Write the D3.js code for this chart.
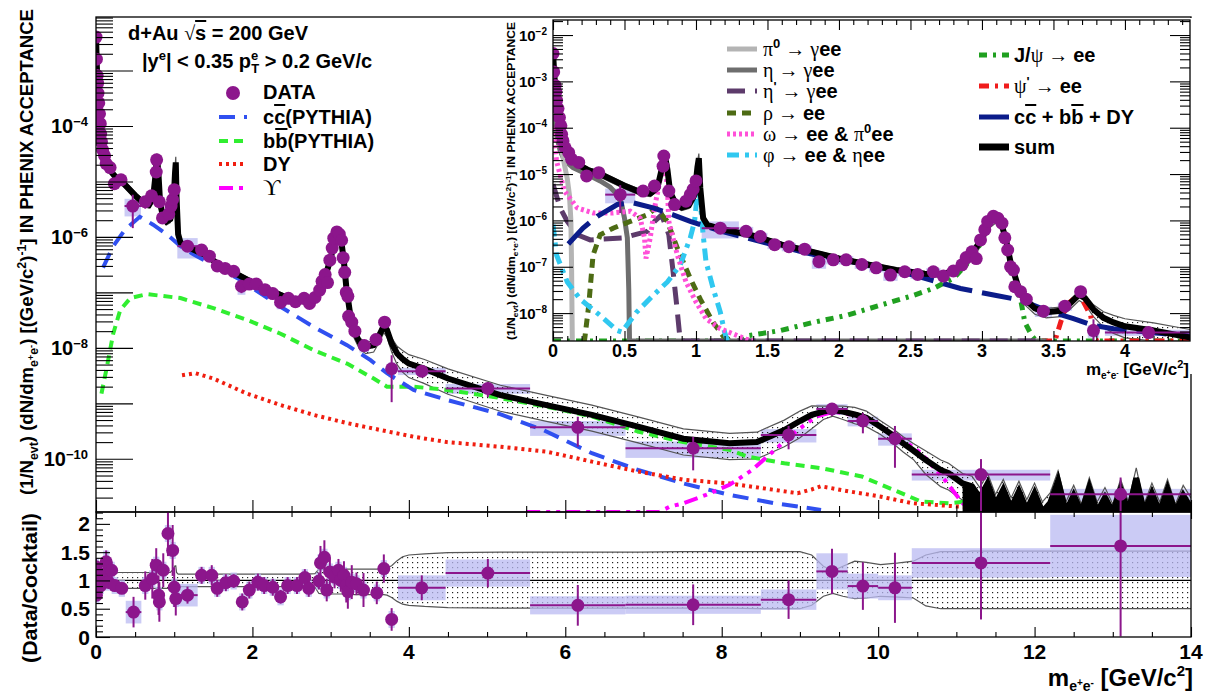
<!DOCTYPE html>
<html>
<head>
<meta charset="utf-8">
<title>Dielectron mass spectrum, d+Au 200 GeV</title>
<script src="https://cdn.jsdelivr.net/npm/d3@7"></script>
<style>
  body { margin: 0; background: #fff; }
  svg text { font-family: "Liberation Sans", Arial, Helvetica, sans-serif; font-weight: bold; fill: #000; }
</style>
</head>
<body>
<svg id="chart" width="1216" height="696"></svg>
<script>
/**
* DIELECTRON SPECTRUM
* ===================
*
* d+Au data compared with the hadronic cocktail: full mass range,
* a low-mass inset and the Data/Cocktail ratio underneath.
*/

// measured pairs (mass in GeV/c2, yield, relative stat error, relative syst, half bin width)
var dataMass = [
	0.000, 0.005, 0.015, 0.020, 0.025,
	0.035, 0.045, 0.055, 0.060, 0.070,
	0.085, 0.110, 0.130, 0.180, 0.235,
	0.320, 0.470, 0.630, 0.710, 0.770,
	0.775, 0.810, 0.850, 0.930, 0.960,
	0.980, 1.000, 1.170, 1.350, 1.450,
	1.550, 1.650, 1.760, 1.860, 1.960,
	2.050, 2.160, 2.260, 2.360, 2.460,
	2.550, 2.660, 2.730, 2.800, 2.860,
	2.890, 2.930, 2.960, 2.990, 3.020,
	3.040, 3.080, 3.110, 3.140, 3.160,
	3.180, 3.200, 3.220, 3.230, 3.270,
	3.310, 3.430, 3.580, 3.690, 3.780,
	4.165, 5.010, 6.160, 7.635, 8.855,
	9.410, 9.805, 10.215, 11.315, 13.100];
var dataYield = [
	4.0e-3, 1.6e-3, 8.1e-4, 5.9e-4, 3.9e-4,
	2.6e-4, 1.66e-4, 1.1e-4, 7.2e-5, 5.2e-5,
	3.7e-5, 2.9e-5, 2.1e-5, 1.78e-5, 9.1e-6,
	1.07e-5, 3.6e-6, 4.3e-6, 5.5e-6, 1.48e-5,
	2.45e-5, 4.3e-6, 2.2e-6, 2.6e-6, 3.6e-6,
	4.7e-6, 7.1e-6, 6.8e-7, 5.8e-7, 4.5e-7,
	3.0e-7, 2.7e-7, 2.4e-7, 1.29e-7, 1.41e-7,
	1.41e-7, 1.12e-7, 9.5e-8, 6.6e-8, 7.8e-8,
	6.8e-8, 7.8e-8, 6.3e-8, 8.1e-8, 1.1e-7,
	1.58e-7, 2.1e-7, 1.5e-7, 3.8e-7, 6.3e-7,
	9.5e-7, 1.23e-6, 1.12e-6, 8.7e-7, 4.2e-7,
	2.3e-7, 1.0e-7, 8.5e-8, 3.7e-8, 2.9e-8,
	2.0e-8, 1.1e-8, 1.41e-8, 2.9e-8, 4.2e-9,
	3.8e-9, 1.86e-9, 3.7e-10, 1.55e-10, 2.7e-10,
	7.9e-10, 4.8e-10, 2.3e-10, 5.2e-11, 2.3e-11];
var dataStat = [
	0.05, 0.05, 0.05, 0.05, 0.05,
	0.05, 0.05, 0.05, 0.05, 0.05,
	0.05, 0.05, 0.05, 0.05, 0.12,
	0.06, 0.60, 0.25, 0.10, 0.08,
	0.08, 0.12, 0.20, 0.12, 0.12,
	0.12, 0.12, 0.15, 0.10, 0.10,
	0.10, 0.10, 0.10, 0.25, 0.10,
	0.10, 0.10, 0.10, 0.18, 0.12,
	0.12, 0.12, 0.12, 0.12, 0.12,
	0.12, 0.12, 0.12, 0.10, 0.10,
	0.10, 0.10, 0.10, 0.10, 0.10,
	0.10, 0.10, 0.10, 0.15, 0.15,
	0.15, 0.20, 0.15, 0.15, 0.75,
	0.15, 0.30, 0.55, 0.60, 0.45,
	0.25, 0.40, 0.70, 0.90, 1.00];
var dataSys = [
	0.12, 0.12, 0.12, 0.12, 0.12,
	0.12, 0.12, 0.12, 0.12, 0.12,
	0.12, 0.12, 0.12, 0.12, 0.20,
	0.15, 0.35, 0.20, 0.15, 0.12,
	0.12, 0.15, 0.20, 0.20, 0.15,
	0.15, 0.15, 0.40, 0.25, 0.20,
	0.20, 0.20, 0.20, 0.30, 0.20,
	0.20, 0.20, 0.20, 0.25, 0.20,
	0.20, 0.20, 0.20, 0.20, 0.20,
	0.20, 0.20, 0.20, 0.15, 0.15,
	0.15, 0.15, 0.15, 0.15, 0.15,
	0.15, 0.15, 0.15, 0.20, 0.20,
	0.20, 0.25, 0.20, 0.20, 0.30,
	0.15, 0.20, 0.30, 0.33, 0.27,
	0.22, 0.20, 0.25, 0.22, 0.25];
var dataBinHalf = [
	0.005, 0.005, 0.005, 0.005, 0.005,
	0.005, 0.005, 0.005, 0.005, 0.005,
	0.005, 0.010, 0.010, 0.020, 0.020,
	0.030, 0.105, 0.030, 0.020, 0.010,
	0.010, 0.020, 0.020, 0.020, 0.010,
	0.010, 0.010, 0.130, 0.050, 0.050,
	0.050, 0.050, 0.050, 0.050, 0.050,
	0.050, 0.050, 0.050, 0.050, 0.050,
	0.050, 0.050, 0.030, 0.030, 0.020,
	0.020, 0.020, 0.020, 0.020, 0.020,
	0.020, 0.020, 0.020, 0.020, 0.020,
	0.020, 0.020, 0.020, 0.020, 0.020,
	0.030, 0.060, 0.050, 0.030, 0.040,
	0.305, 0.540, 0.610, 0.865, 0.355,
	0.200, 0.195, 0.215, 0.885, 0.900];

// Data/Cocktail ratio
var ratioMass = [
	0.000, 0.005, 0.010, 0.040, 0.060,
	0.100, 0.130, 0.160, 0.200, 0.240,
	0.330, 0.480, 0.630, 0.720, 0.770,
	0.800, 0.810, 0.860, 0.920, 0.980,
	1.000, 1.020, 1.170, 1.350, 1.480,
	1.550, 1.660, 1.760, 1.870, 1.960,
	2.070, 2.150, 2.260, 2.360, 2.450,
	2.570, 2.670, 2.720, 2.850, 2.870,
	2.920, 2.950, 2.990, 3.050, 3.100,
	3.130, 3.170, 3.200, 3.220, 3.270,
	3.330, 3.420, 3.590, 3.680, 3.780,
	4.165, 5.010, 6.160, 7.635, 8.855,
	9.410, 9.805, 10.215, 11.315, 13.100];
var ratioVal = [
	1.24, 0.74, 1.00, 1.09, 0.91,
	1.12, 1.33, 0.97, 1.18, 0.91,
	0.86, 0.44, 0.91, 1.03, 1.27,
	0.74, 0.62, 1.18, 1.83, 1.53,
	0.88, 0.68, 0.74, 1.09, 1.09,
	0.86, 0.96, 0.99, 0.62, 0.83,
	0.97, 0.91, 0.88, 0.71, 0.91,
	0.91, 1.05, 0.86, 0.99, 1.31,
	1.41, 0.83, 1.15, 1.06, 1.18,
	1.00, 1.09, 0.91, 0.80, 0.97,
	0.94, 0.83, 0.78, 1.21, 0.31,
	0.87, 1.13, 0.56, 0.57, 0.66,
	1.16, 0.90, 0.87, 1.31, 1.61];
var ratioStat = [
	0.15, 0.10, 0.10, 0.12, 0.10,
	0.15, 0.20, 0.12, 0.15, 0.10,
	0.10, 0.27, 0.25, 0.35, 0.30,
	0.35, 0.35, 0.30, 0.40, 0.45,
	0.35, 0.30, 0.15, 0.15, 0.18,
	0.15, 0.15, 0.12, 0.15, 0.15,
	0.15, 0.15, 0.15, 0.12, 0.15,
	0.15, 0.15, 0.15, 0.15, 0.30,
	0.30, 0.20, 0.25, 0.20, 0.20,
	0.20, 0.25, 0.30, 0.30, 0.30,
	0.20, 0.30, 0.20, 0.25, 0.20,
	0.22, 0.25, 0.36, 0.36, 0.34,
	0.40, 0.42, 0.62, 1.00, 1.60];
var ratioSys = [
	0.15, 0.15, 0.15, 0.15, 0.15,
	0.20, 0.20, 0.15, 0.15, 0.15,
	0.15, 0.20, 0.15, 0.15, 0.15,
	0.15, 0.15, 0.15, 0.15, 0.15,
	0.15, 0.15, 0.20, 0.15, 0.15,
	0.15, 0.15, 0.15, 0.15, 0.15,
	0.15, 0.15, 0.15, 0.15, 0.15,
	0.15, 0.15, 0.15, 0.15, 0.15,
	0.15, 0.15, 0.15, 0.15, 0.15,
	0.15, 0.15, 0.15, 0.15, 0.15,
	0.15, 0.15, 0.15, 0.15, 0.15,
	0.22, 0.24, 0.16, 0.16, 0.18,
	0.32, 0.22, 0.22, 0.26, 0.55];
var ratioBinHalf = [
	0.04, 0.04, 0.04, 0.04, 0.04,
	0.04, 0.04, 0.04, 0.04, 0.04,
	0.04, 0.10, 0.04, 0.04, 0.04,
	0.04, 0.04, 0.04, 0.04, 0.04,
	0.04, 0.04, 0.13, 0.04, 0.04,
	0.04, 0.04, 0.04, 0.04, 0.04,
	0.04, 0.04, 0.04, 0.04, 0.04,
	0.04, 0.04, 0.04, 0.04, 0.04,
	0.04, 0.04, 0.04, 0.04, 0.04,
	0.04, 0.04, 0.04, 0.04, 0.04,
	0.04, 0.04, 0.04, 0.04, 0.04,
	0.305, 0.540, 0.610, 0.865, 0.355,
	0.200, 0.195, 0.215, 0.885, 0.900];

// cocktail sum with its systematic band (upper / lower relative limits)
var sumMass = [
	0.00, 0.01, 0.02, 0.04, 0.06,
	0.08, 0.10, 0.13, 0.18, 0.25,
	0.33, 0.40, 0.50, 0.60, 0.68,
	0.73, 0.76, 0.78, 0.80, 0.82,
	0.86, 0.90, 0.95, 0.99, 1.01,
	1.02, 1.03, 1.05, 1.08, 1.20,
	1.40, 1.60, 1.80, 2.00, 2.20,
	2.40, 2.60, 2.70, 2.80, 2.85,
	2.90, 3.00, 3.05, 3.10, 3.13,
	3.17, 3.20, 3.25, 3.30, 3.37,
	3.45, 3.55, 3.62, 3.68, 3.72,
	3.78, 3.85, 3.92, 4.00, 4.20,
	4.50, 5.17, 5.76, 6.34, 6.93,
	7.51, 8.10, 8.45, 8.80, 9.00,
	9.15, 9.30, 9.42, 9.55, 9.70,
	9.85, 10.03, 10.20, 10.32, 10.45,
	10.61, 10.80, 10.90, 11.08, 11.20,
	11.30, 11.40, 11.50, 11.60, 11.70,
	11.80, 11.90, 12.00, 12.10, 12.20,
	12.30, 12.40, 12.50, 12.60, 12.70,
	12.80, 12.90, 13.00, 13.10, 13.20,
	13.30, 13.40, 13.50, 13.60, 13.70,
	13.80, 13.90, 14.00];
var sumYield = [
	4.2e-3, 1.26e-3, 5.6e-4, 2.4e-4, 9.5e-5,
	4.5e-5, 2.8e-5, 2.0e-5, 1.58e-5, 1.2e-5,
	1.0e-5, 7.9e-6, 5.6e-6, 4.2e-6, 3.8e-6,
	5.0e-6, 1.26e-5, 2.8e-5, 1.26e-5, 4.0e-6,
	2.24e-6, 1.9e-6, 2.1e-6, 3.55e-6, 1.4e-5,
	2.2e-5, 5.0e-6, 1.12e-6, 7.9e-7, 6.3e-7,
	4.7e-7, 3.0e-7, 2.14e-7, 1.51e-7, 1.12e-7,
	8.5e-8, 7.1e-8, 6.8e-8, 7.9e-8, 1.0e-7,
	1.41e-7, 4.0e-7, 8.9e-7, 1.18e-6, 1.0e-6,
	3.55e-7, 1.26e-7, 4.0e-8, 2.0e-8, 1.26e-8,
	1.05e-8, 1.12e-8, 1.66e-8, 2.5e-8, 2.1e-8,
	1.2e-8, 7.9e-9, 6.3e-9, 5.2e-9, 4.2e-9,
	2.8e-9, 1.41e-9, 9.3e-10, 6.2e-10, 3.8e-10,
	2.3e-10, 1.9e-10, 2.0e-10, 3.3e-10, 4.8e-10,
	6.2e-10, 7.1e-10, 7.6e-10, 7.1e-10, 6.3e-10,
	5.5e-10, 3.8e-10, 2.6e-10, 1.9e-10, 1.41e-10,
	9.5e-11, 6.3e-11, 5.5e-11, 3.6e-11, 3.2e-11,
	2.0e-11, 3.6e-11, 1.5e-11, 2.8e-11, 1.3e-11,
	2.6e-11, 1.2e-11, 2.4e-11, 1.1e-11, 1.6e-11,
	4.0e-11, 1.1e-11, 2.2e-11, 1.0e-11, 3.0e-11,
	1.1e-11, 2.0e-11, 1.0e-11, 2.8e-11, 1.1e-11,
	4.5e-11, 1.0e-11, 2.4e-11, 1.1e-11, 2.8e-11,
	1.0e-11, 2.2e-11, 1.3e-11];
var sumRelHi = [
	1.10, 1.11, 1.12, 1.13, 1.13,
	1.13, 1.13, 1.13, 1.13, 1.14,
	1.14, 1.14, 1.14, 1.14, 1.14,
	1.14, 1.14, 1.14, 1.14, 1.14,
	1.14, 1.14, 1.14, 1.20, 1.26,
	1.26, 1.14, 1.11, 1.11, 1.11,
	1.11, 1.11, 1.11, 1.11, 1.11,
	1.11, 1.11, 1.11, 1.12, 1.20,
	1.20, 1.20, 1.20, 1.20, 1.20,
	1.20, 1.20, 1.20, 1.20, 1.20,
	1.20, 1.20, 1.20, 1.21, 1.22,
	1.26, 1.35, 1.42, 1.45, 1.47,
	1.49, 1.50, 1.50, 1.50, 1.50,
	1.51, 1.51, 1.51, 1.51, 1.51,
	1.45, 1.25, 1.17, 1.25, 1.34,
	1.32, 1.28, 1.30, 1.32, 1.34,
	1.45, 1.51, 1.51, 1.51, 1.52,
	1.52, 1.52, 1.52, 1.52, 1.52,
	1.52, 1.52, 1.52, 1.52, 1.52,
	1.52, 1.52, 1.52, 1.52, 1.52,
	1.52, 1.52, 1.52, 1.52, 1.52,
	1.52, 1.52, 1.52, 1.52, 1.52,
	1.52, 1.52, 1.52];
var sumRelLo = [
	0.90, 0.89, 0.88, 0.87, 0.87,
	0.87, 0.87, 0.87, 0.87, 0.86,
	0.86, 0.86, 0.86, 0.86, 0.86,
	0.86, 0.86, 0.86, 0.86, 0.86,
	0.86, 0.86, 0.86, 0.84, 0.82,
	0.84, 0.88, 0.89, 0.89, 0.89,
	0.89, 0.89, 0.89, 0.89, 0.89,
	0.89, 0.89, 0.89, 0.88, 0.77,
	0.76, 0.76, 0.76, 0.76, 0.76,
	0.76, 0.76, 0.76, 0.75, 0.75,
	0.75, 0.75, 0.75, 0.75, 0.74,
	0.70, 0.63, 0.58, 0.56, 0.54,
	0.52, 0.51, 0.51, 0.51, 0.51,
	0.51, 0.51, 0.50, 0.50, 0.50,
	0.56, 0.72, 0.77, 0.72, 0.68,
	0.69, 0.72, 0.71, 0.70, 0.69,
	0.55, 0.50, 0.50, 0.50, 0.50,
	0.50, 0.50, 0.50, 0.50, 0.50,
	0.50, 0.50, 0.50, 0.50, 0.50,
	0.50, 0.50, 0.50, 0.50, 0.50,
	0.50, 0.50, 0.50, 0.50, 0.50,
	0.50, 0.50, 0.50, 0.50, 0.50,
	0.50, 0.50, 0.50];

// heavy flavour, Drell-Yan and Upsilon (full range panel)
var ccMass = [0.09, 0.22, 0.37, 0.56, 0.73, 0.91, 1.08, 1.25, 1.84, 2.36, 2.78, 3.21, 3.51, 3.72, 4.06, 4.49, 5.15, 5.72, 6.34, 6.93, 7.51, 8.10, 8.68, 9.27];
var ccYield = [2.8e-7, 6.8e-7, 1.35e-6, 2.3e-6, 1.66e-6, 1.1e-6, 6.8e-7, 4.8e-7, 1.7e-7, 5.5e-8, 2.4e-8, 1.12e-8, 6.0e-9, 3.5e-9, 1.74e-9, 1.15e-9, 6.5e-10, 3.3e-10, 1.26e-10, 6.3e-11, 3.6e-11, 2.24e-11, 1.58e-11, 1.2e-11];
var bbMass = [0.07, 0.14, 0.22, 0.31, 0.44, 0.65, 1.08, 1.50, 1.93, 2.36, 2.78, 3.21, 3.55, 3.72, 4.06, 4.49, 5.15, 5.76, 6.34, 6.93, 7.51, 8.10, 8.33, 8.80, 9.27, 9.79, 10.20, 10.55, 10.90, 11.31, 11.60, 11.90];
var bbYield = [1.5e-9, 4.6e-9, 1.8e-8, 4.8e-8, 7.9e-8, 9.3e-8, 7.9e-8, 5.2e-8, 3.2e-8, 1.8e-8, 9.1e-9, 5.2e-9, 2.8e-9, 2.0e-9, 2.0e-9, 1.74e-9, 1.26e-9, 8.7e-10, 5.8e-10, 3.1e-10, 2.0e-10, 1.45e-10, 1.1e-10, 8.3e-11, 6.8e-11, 4.8e-11, 2.75e-11, 1.7e-11, 1.58e-11, 1.8e-11, 1.48e-11, 1.12e-11];
var dyMass = [1.10, 1.27, 1.50, 1.93, 2.36, 2.78, 3.21, 3.64, 4.06, 4.49, 5.15, 5.76, 6.34, 6.93, 7.51, 8.10, 8.68, 8.97, 9.15, 9.27, 9.62, 10.02, 10.44, 11.02, 11.60, 12.50];
var dyYield = [3.2e-9, 3.5e-9, 2.8e-9, 1.5e-9, 9.3e-10, 6.2e-10, 4.4e-10, 3.3e-10, 2.5e-10, 2.0e-10, 1.66e-10, 1.35e-10, 8.9e-11, 5.9e-11, 4.2e-11, 3.6e-11, 2.75e-11, 2.4e-11, 2.8e-11, 3.2e-11, 2.6e-11, 2.1e-11, 1.58e-11, 1.38e-11, 1.29e-11, 1.17e-11];
var upsMass = [5.50, 7.20, 7.34, 7.51, 7.80, 8.10, 8.39, 8.68, 8.97, 9.21, 9.44, 9.67, 9.96, 10.26, 10.55, 10.85, 11.08, 11.20];
var upsYield = [1e-12, 1e-12, 1.38e-11, 1.58e-11, 2.24e-11, 3.4e-11, 6.3e-11, 1.45e-10, 3.3e-10, 5.8e-10, 7.1e-10, 6.2e-10, 4.4e-10, 2.5e-10, 1.26e-10, 4.2e-11, 1.58e-11, 1e-12];

// cocktail sources (inset)
var pi0Mass = [0, 0.01, 0.02, 0.03, 0.04, 0.06, 0.08, 0.10, 0.115, 0.125, 0.13, 0.133, 0.135];
var pi0Yield = [3.55e-3, 1.0e-3, 4.0e-4, 1.78e-4, 8.9e-5, 3.55e-5, 1.58e-5, 7.9e-6, 3.55e-6, 1.0e-6, 1.0e-7, 1.0e-8, 1e-10];
var etaMass = [0, 0.02, 0.05, 0.08, 0.14, 0.22, 0.33, 0.40, 0.45, 0.48, 0.50, 0.52, 0.53, 0.535, 3.45];
var etaYield = [2.0e-4, 7.9e-5, 3.2e-5, 2.0e-5, 1.38e-5, 1.05e-5, 7.1e-6, 5.2e-6, 3.6e-6, 2.24e-6, 1.12e-6, 4.2e-7, 3.2e-8, 1e-10, 1e-10];
var etapMass = [0, 0.05, 0.10, 0.17, 0.26, 0.49, 0.66, 0.71, 0.76, 0.81, 0.84, 0.865, 0.89, 0.90, 3.45];
var etapYield = [6.0e-6, 1.86e-6, 9.5e-7, 4.9e-7, 3.8e-7, 4.2e-7, 5.8e-7, 9.5e-7, 1.32e-6, 4.9e-7, 7.8e-8, 1.48e-8, 2.3e-9, 1e-10, 1e-10];
var rhoMass = [0.21, 0.22, 0.25, 0.28, 0.33, 0.42, 0.54, 0.66, 0.72, 0.80, 0.87, 0.96, 1.03, 1.12, 1.19, 1.25];
var rhoYield = [1e-10, 2.3e-9, 1.48e-8, 1.78e-7, 4.9e-7, 6.8e-7, 9.5e-7, 1.32e-6, 1.86e-6, 9.5e-7, 2.5e-7, 5.6e-8, 2.0e-8, 6.3e-9, 3.2e-9, 1e-10];
var omegaMass = [0, 0.025, 0.08, 0.17, 0.28, 0.42, 0.54, 0.61, 0.64, 0.65, 0.68, 0.71, 0.75, 0.782, 0.80, 0.81, 0.87, 0.93, 1.00, 1.07, 1.17, 1.26, 1.35, 1.40];
var omegaYield = [1.02e-4, 1.9e-5, 4.3e-6, 1.86e-6, 1.45e-6, 1.45e-6, 1.58e-6, 1.12e-6, 4.2e-7, 1.51e-7, 4.2e-7, 1.86e-6, 7.9e-6, 2.0e-5, 5.0e-6, 9.5e-7, 1.78e-7, 4.7e-8, 1.74e-8, 7.6e-9, 4.6e-9, 3.55e-9, 2.75e-9, 1e-10];
var phiMass = [0, 0.025, 0.10, 0.19, 0.33, 0.45, 0.48, 0.585, 0.70, 0.80, 0.89, 0.96, 0.99, 1.01, 1.02, 1.03, 1.05, 1.07, 1.12, 1.17, 1.20, 1.22];
var phiYield = [8.1e-7, 1.78e-7, 4.7e-8, 2.0e-8, 8.9e-9, 4.2e-9, 3.9e-9, 1.05e-8, 2.4e-8, 4.7e-8, 1.1e-7, 4.2e-7, 9.5e-7, 4.0e-6, 5.0e-6, 2.5e-6, 4.9e-7, 1.29e-7, 3.4e-8, 1.05e-8, 3.9e-9, 1e-10];
var jpsiMass = [0, 1.30, 1.35, 1.59, 1.82, 2.05, 2.29, 2.52, 2.66, 2.80, 2.89, 2.98, 3.04, 3.10, 3.14, 3.18, 3.22, 3.27, 3.30, 3.35, 3.38, 4.455];
var jpsiYield = [1e-10, 1e-10, 3.2e-9, 4.2e-9, 6.3e-9, 8.9e-9, 1.48e-8, 2.4e-8, 3.4e-8, 5.6e-8, 1.1e-7, 2.8e-7, 7.9e-7, 1.1e-6, 8.9e-7, 2.5e-7, 4.0e-8, 2.0e-8, 6.3e-9, 3.2e-9, 1e-10, 1e-10];
var psipMass = [3.42, 3.51, 3.55, 3.59, 3.64, 3.68, 3.71, 3.76, 3.79, 3.81, 4.455];
var psipYield = [1e-10, 2.3e-9, 6.3e-9, 1.48e-8, 2.0e-8, 2.5e-8, 1.74e-8, 8.9e-9, 2.75e-9, 1e-10, 1e-10];
var hfMass = [0.107, 0.21, 0.31, 0.45, 0.56, 0.70, 0.84, 0.96, 1.03, 1.20, 1.50, 1.80, 2.10, 2.40, 2.57, 2.85, 3.10, 3.27, 3.45, 3.64, 3.78, 3.92, 4.29, 4.455];
var hfYield = [3.1e-7, 6.8e-7, 1.23e-6, 2.2e-6, 2.4e-6, 1.86e-6, 1.32e-6, 9.5e-7, 8.1e-7, 5.6e-7, 3.2e-7, 1.9e-7, 1.26e-7, 8.3e-8, 6.0e-8, 3.4e-8, 2.4e-8, 1.9e-8, 1.15e-8, 7.6e-9, 5.4e-9, 4.6e-9, 3.55e-9, 3.2e-9];

// tick labels
var mainExpLabels = [-4, -6, -8, -10];
var insetExpLabels = [-2, -3, -4, -5, -6, -7, -8];
var ratioLabels = [0, 0.5, 1, 1.5, 2];
var massLabels = [0, 2, 4, 6, 8, 10, 12, 14];
var insetMassLabels = [0, 0.5, 1, 1.5, 2, 2.5, 3, 3.5, 4];


/**
* SCALES AND STYLES
* =================
*/
var svg = d3.select('#chart');
var defs = svg.append('defs');

var xMain = d3.scaleLinear().domain([0, 14]).range([96, 1191]);
var yMain = d3.scaleLog().domain([1.1e-11, 9.2e-3]).range([512, 17]);
var yRatio = d3.scaleLinear().domain([0, 2.21]).range([637, 512]);
var xInset = d3.scaleLinear().domain([0, 4.455]).range([553, 1190]);
var yInset = d3.scaleLog().domain([2.5e-9, 0.0211]).range([341, 20]);

var GREEK = '"Liberation Serif", "DejaVu Serif", serif';
var purple = '#8c168c';
var sysFill = '#b9b9f2';

var style = {
	cc:    {color: '#3050f0', width: 4, dash: '16,9'},
	bb:    {color: '#30ee30', width: 4, dash: '9,6'},
	dy:    {color: '#f01e10', width: 4, dash: '3,4'},
	ups:   {color: '#ff00ff', width: 4, dash: '14,6,4,6,4,6'},
	pi0:   {color: '#b4b4b4', width: 5},
	eta:   {color: '#6e6e6e', width: 5},
	etap:  {color: '#5d3b6b', width: 5, dash: '18,10'},
	rho:   {color: '#4d6b14', width: 5, dash: '9,6'},
	omega: {color: '#ff50d8', width: 5, dash: '3,3'},
	phi:   {color: '#30c8f0', width: 5, dash: '12,6,4,6'},
	jpsi:  {color: '#20a020', width: 5, dash: '8,6,3,6'},
	psip:  {color: '#f01c1c', width: 5, dash: '10,6,3,6'},
	hf:    {color: '#0b1c8a', width: 5, dash: '30,10'},
	sum:   {color: '#000', width: 6}
};

//dot pattern used for the cocktail systematic band
defs.append('pattern').attr('id', 'dots').attr('width', 5).attr('height', 5)
	.attr('patternUnits', 'userSpaceOnUse')
	.append('rect').attr('x', 2).attr('y', 2).attr('width', 1.2).attr('height', 1.2).attr('fill', '#222');

var addClip = function(id, x, y, w, h){
	defs.append('clipPath').attr('id', id)
		.append('rect').attr('x', x).attr('y', y).attr('width', w).attr('height', h);
};
addClip('clipMain', 96, 17, 1095, 495);
addClip('clipRatio', 96, 512, 1095, 125);
addClip('clipInset', 553, 20, 637, 321);


/**
* HELPERS
* =======
*/
var pairs = function(m, v){
	return m.map(function(d, i){ return [d, v[i]]; });
};

//values under the axis are drawn along it, as the original does
var floorY = function(y){
	var lo = y.domain()[0];
	return function(v){ return y(Math.max(v, lo)); };
};

var drawCurve = function(g, x, y, m, v, st){
	var fy = floorY(y);
	g.append('path').datum(pairs(m, v))
		.attr('d', d3.line().x(function(d){ return x(d[0]); }).y(function(d){ return fy(d[1]); }))
		.attr('fill', 'none')
		.attr('stroke', st.color)
		.attr('stroke-width', st.width)
		.attr('stroke-dasharray', st.dash || null);
};

var sumRows = sumMass.map(function(m, i){
	return {m: m, v: sumYield[i], hi: sumYield[i] * sumRelHi[i], lo: sumYield[i] * sumRelLo[i], rHi: sumRelHi[i], rLo: sumRelLo[i]};
});

var drawBand = function(g, x, yHi, yLo, rows){
	g.append('path').datum(rows)
		.attr('d', d3.area().x(function(d){ return x(d.m); }).y0(yLo).y1(yHi))
		.attr('fill', 'url(#dots)');
	[yHi, yLo].forEach(function(f){
		g.append('path').datum(rows)
			.attr('d', d3.line().x(function(d){ return x(d.m); }).y(f))
			.attr('fill', 'none').attr('stroke', '#555').attr('stroke-width', 1.2);
	});
};

var drawBoxes = function(g, x, pts){
	g.selectAll(null).data(pts).enter().append('rect')
		.attr('x', function(d){ return x(d.m - d.half); })
		.attr('width', function(d){ return Math.max(x(d.m + d.half) - x(d.m - d.half), 2); })
		.attr('y', function(d){ return d.boxTop; })
		.attr('height', function(d){ return Math.max(d.boxBottom - d.boxTop, 1); })
		.attr('fill', sysFill).attr('fill-opacity', 0.75);
};

// points: {m, y, top, bottom, half}
var drawPoints = function(g, x, pts, r){
	g.selectAll(null).data(pts).enter().append('line')
		.attr('x1', function(d){ return x(d.m); }).attr('x2', function(d){ return x(d.m); })
		.attr('y1', function(d){ return d.top; }).attr('y2', function(d){ return d.bottom; })
		.attr('stroke', purple).attr('stroke-width', 2);
	g.selectAll(null).data(pts.filter(function(d){ return d.half >= 0.1; })).enter().append('line')
		.attr('x1', function(d){ return x(d.m - d.half); }).attr('x2', function(d){ return x(d.m + d.half); })
		.attr('y1', function(d){ return d.y; }).attr('y2', function(d){ return d.y; })
		.attr('stroke', purple).attr('stroke-width', 2);
	g.selectAll(null).data(pts).enter().append('circle')
		.attr('cx', function(d){ return x(d.m); }).attr('cy', function(d){ return d.y; })
		.attr('r', r).attr('fill', purple);
};

var yieldPoints = function(y){
	var fy = floorY(y);
	return dataMass.map(function(m, i){
		var v = dataYield[i];
		return {
			m: m, y: y(v), half: dataBinHalf[i],
			top: fy(v * (1 + dataStat[i])), bottom: fy(v * Math.max(1 - dataStat[i], 1e-6)),
			boxTop: fy(v * (1 + dataSys[i])), boxBottom: fy(v * (1 - dataSys[i]))
		};
	});
};

//rich text: parts carry an offset from the baseline (positive = down)
var rich = function(parent, parts){
	var t = parent.append('text');
	var cur = 0;
	parts.forEach(function(p){
		var off = p.off || 0;
		var s = t.append('tspan').text(p.t).attr('dy', off - cur);
		cur = off;
		if (p.fs) s.attr('font-size', p.fs);
		if (p.g) s.attr('font-family', GREEK).attr('font-weight', 'normal');
		if (p.ol) s.style('text-decoration', 'overline');
		if (p.dx) s.attr('dx', p.dx);
	});
	return t;
};

var tickAxis = function(gen, scale, values, size, tx, ty){
	svg.append('g').attr('transform', 'translate(' + tx + ',' + ty + ')')
		.call(gen(scale).tickValues(values).tickSize(size).tickFormat(''))
		.call(function(s){
			s.select('.domain').remove();
			s.selectAll('text').remove();
			s.selectAll('line').attr('stroke', '#000').attr('stroke-width', 1.1);
		});
};

var logMajor = function(scale){
	var d = scale.domain();
	return d3.range(Math.ceil(Math.log10(d[0])), Math.floor(Math.log10(d[1])) + 1)
		.map(function(e){ return Math.pow(10, e); });
};
var logMinor = function(scale){
	var d = scale.domain(), out = [];
	d3.range(Math.floor(Math.log10(d[0])), Math.ceil(Math.log10(d[1]))).forEach(function(e){
		d3.range(2, 10).forEach(function(k){
			var v = k * Math.pow(10, e);
			if (v >= d[0] && v <= d[1]) out.push(v);
		});
	});
	return out;
};


/**
* MAIN PANEL
* ==========
*/
var main = svg.append('g').attr('clip-path', 'url(#clipMain)');
var mainPts = yieldPoints(yMain);
var fyMain = floorY(yMain);

drawBoxes(main, xMain, mainPts);
drawBand(main, xMain, function(d){ return fyMain(d.hi); }, function(d){ return fyMain(d.lo); }, sumRows);

drawCurve(main, xMain, yMain, bbMass, bbYield, style.bb);
drawCurve(main, xMain, yMain, ccMass, ccYield, style.cc);
drawCurve(main, xMain, yMain, dyMass, dyYield, style.dy);
drawCurve(main, xMain, yMain, upsMass, upsYield, style.ups);

//fluctuating high-mass tail of the cocktail is filled down to the axis
main.append('path').datum(sumRows.filter(function(d){ return d.m >= 11.0; }))
	.attr('d', d3.area().x(function(d){ return xMain(d.m); }).y0(512).y1(function(d){ return fyMain(d.v); }))
	.attr('fill', '#000');
drawCurve(main, xMain, yMain, sumMass, sumYield, style.sum);

drawPoints(main, xMain, mainPts, 6.5);

//frame and ticks
svg.append('rect').attr('x', 96).attr('y', 17).attr('width', 1095).attr('height', 495)
	.attr('fill', 'none').attr('stroke', '#000').attr('stroke-width', 1.3);

tickAxis(d3.axisRight, yMain, logMinor(yMain), 17, 96, 0);
tickAxis(d3.axisRight, yMain, logMajor(yMain), 37, 96, 0);

var halfSteps = d3.range(0, 14.01, 0.5);
var xMinor = halfSteps.filter(function(v){ return v % 2 !== 0; });
var xMajor = halfSteps.filter(function(v){ return v % 2 === 0; });
tickAxis(d3.axisTop, xMain, xMinor, 6, 0, 512);
tickAxis(d3.axisTop, xMain, xMajor, 12, 0, 512);

mainExpLabels.forEach(function(e){
	var t = rich(svg, [{t: '10'}, {t: '\u2212' + (-e), off: -7, fs: 13}]);
	t.attr('x', 88).attr('y', yMain(Math.pow(10, e)) + 7).attr('text-anchor', 'end').attr('font-size', 20);
});


/**
* RATIO PANEL
* ===========
*/
var ratio = svg.append('g').attr('clip-path', 'url(#clipRatio)');
drawBand(ratio, xMain, function(d){ return yRatio(d.rHi); }, function(d){ return yRatio(d.rLo); }, sumRows);
ratio.append('line').attr('x1', 96).attr('x2', 1191).attr('y1', yRatio(1)).attr('y2', yRatio(1))
	.attr('stroke', '#000').attr('stroke-width', 1.2);

var ratioPts = ratioMass.map(function(m, i){
	var v = ratioVal[i];
	return {
		m: m, y: yRatio(v), half: ratioBinHalf[i],
		top: yRatio(v + ratioStat[i]), bottom: yRatio(Math.max(v - ratioStat[i], 0)),
		boxTop: yRatio(v + ratioSys[i]), boxBottom: yRatio(v - ratioSys[i])
	};
});
drawBoxes(ratio, xMain, ratioPts);
drawPoints(ratio, xMain, ratioPts, 6.5);

svg.append('rect').attr('x', 96).attr('y', 512).attr('width', 1095).attr('height', 125)
	.attr('fill', 'none').attr('stroke', '#000').attr('stroke-width', 1.3);

tickAxis(d3.axisBottom, xMain, xMinor, 5, 0, 512);
tickAxis(d3.axisBottom, xMain, xMajor, 7, 0, 512);
tickAxis(d3.axisTop, xMain, xMinor, 5, 0, 637);
tickAxis(d3.axisTop, xMain, xMajor, 10, 0, 637);

var rSteps = d3.range(0, 2.21, 0.1).map(function(v){ return Math.round(v * 10) / 10; });
tickAxis(d3.axisRight, yRatio, rSteps.filter(function(v){ return Math.round(v * 10) % 5 !== 0; }), 7, 96, 0);
tickAxis(d3.axisRight, yRatio, ratioLabels, 14, 96, 0);

ratioLabels.forEach(function(v){
	svg.append('text').attr('x', 90).attr('y', yRatio(v) + 7.5).attr('text-anchor', 'end')
		.attr('font-size', 21).text(String(v));
});
massLabels.forEach(function(v){
	svg.append('text').attr('x', xMain(v)).attr('y', 659).attr('text-anchor', 'middle')
		.attr('font-size', 21).text(String(v));
});


/**
* INSET
* =====
*/
svg.append('rect').attr('x', 492).attr('y', 18).attr('width', 702).attr('height', 356).attr('fill', '#fff');

var inset = svg.append('g').attr('clip-path', 'url(#clipInset)');
var insetPts = yieldPoints(yInset);
var fyInset = floorY(yInset);

drawBoxes(inset, xInset, insetPts);
drawBand(inset, xInset, function(d){ return fyInset(d.hi); }, function(d){ return fyInset(d.lo); },
	sumRows.filter(function(d){ return d.m <= 4.6; }));

drawCurve(inset, xInset, yInset, jpsiMass, jpsiYield, style.jpsi);
drawCurve(inset, xInset, yInset, psipMass, psipYield, style.psip);
drawCurve(inset, xInset, yInset, etaMass, etaYield, style.eta);
drawCurve(inset, xInset, yInset, etapMass, etapYield, style.etap);
drawCurve(inset, xInset, yInset, pi0Mass, pi0Yield, style.pi0);
drawCurve(inset, xInset, yInset, rhoMass, rhoYield, style.rho);
drawCurve(inset, xInset, yInset, phiMass, phiYield, style.phi);
drawCurve(inset, xInset, yInset, omegaMass, omegaYield, style.omega);
drawCurve(inset, xInset, yInset, hfMass, hfYield, style.hf);
drawCurve(inset, xInset, yInset,
	sumMass.filter(function(m){ return m <= 4.6; }), sumYield.filter(function(v, i){ return sumMass[i] <= 4.6; }), style.sum);

drawPoints(inset, xInset, insetPts, 6.5);

svg.append('rect').attr('x', 553).attr('y', 20).attr('width', 637).attr('height', 321)
	.attr('fill', 'none').attr('stroke', '#000').attr('stroke-width', 1.3);

var tenths = d3.range(0, 4.46, 0.1).map(function(v){ return Math.round(v * 10) / 10; });
var inMinor = tenths.filter(function(v){ return Math.round(v * 10) % 5 !== 0; });
var inMajor = tenths.filter(function(v){ return Math.round(v * 10) % 5 === 0; });
tickAxis(d3.axisTop, xInset, inMinor, 5, 0, 341);
tickAxis(d3.axisTop, xInset, inMajor, 10, 0, 341);
tickAxis(d3.axisBottom, xInset, inMinor, 5, 0, 20);
tickAxis(d3.axisBottom, xInset, inMajor, 10, 0, 20);
tickAxis(d3.axisRight, yInset, logMinor(yInset), 10, 553, 0);
tickAxis(d3.axisRight, yInset, logMajor(yInset), 20, 553, 0);
tickAxis(d3.axisLeft, yInset, logMinor(yInset), 10, 1190, 0);
tickAxis(d3.axisLeft, yInset, logMajor(yInset), 20, 1190, 0);

insetExpLabels.forEach(function(e){
	var t = rich(svg, [{t: '10'}, {t: '\u2212' + (-e), off: -6, fs: 10}]);
	t.attr('x', 547).attr('y', yInset(Math.pow(10, e)) + 5.5).attr('text-anchor', 'end').attr('font-size', 15);
});
insetMassLabels.forEach(function(v){
	svg.append('text').attr('x', xInset(v)).attr('y', 357).attr('text-anchor', 'middle')
		.attr('font-size', 18).text(String(v));
});


/**
* TITLES
* ======
*/
rich(svg, [
	{t: '(1/N'}, {t: 'evt', off: 5, fs: 12}, {t: ') (dN/dm'}, {t: 'e', off: 5, fs: 12}, {t: '+', off: 1, fs: 9},
	{t: 'e', off: 5, fs: 12}, {t: '-', off: 1, fs: 9}, {t: ') [(GeV/c'}, {t: '2', off: -7, fs: 12}, {t: ')'},
	{t: '-1', off: -7, fs: 12}, {t: '] IN PHENIX ACCEPTANCE'}
]).attr('transform', 'translate(33,252) rotate(-90)').attr('text-anchor', 'middle').attr('font-size', 18)
	.attr('textLength', 486).attr('lengthAdjust', 'spacingAndGlyphs');

svg.append('text').attr('transform', 'translate(37,588) rotate(-90)').attr('text-anchor', 'middle')
	.attr('font-size', 21).attr('textLength', 150).attr('lengthAdjust', 'spacingAndGlyphs')
	.text('(Data/Cocktail)');

rich(svg, [
	{t: '(1/N'}, {t: 'evt', off: 3, fs: 8}, {t: ') (dN/dm'}, {t: 'e', off: 3, fs: 8}, {t: '+', off: 1, fs: 6},
	{t: 'e', off: 3, fs: 8}, {t: '-', off: 1, fs: 6}, {t: ') [(GeV/c'}, {t: '2', off: -4, fs: 8}, {t: ')'},
	{t: '-1', off: -4, fs: 8}, {t: '] IN PHENIX ACCEPTANCE'}
]).attr('transform', 'translate(515,181) rotate(-90)').attr('text-anchor', 'middle').attr('font-size', 11.5)
	.attr('textLength', 318).attr('lengthAdjust', 'spacingAndGlyphs');

rich(svg, [
	{t: 'm'}, {t: 'e', off: 5, fs: 14}, {t: '+', off: 0, fs: 10}, {t: 'e', off: 5, fs: 14}, {t: '-', off: 0, fs: 10},
	{t: ' [GeV/c'}, {t: '2', off: -10, fs: 15}, {t: ']'}
]).attr('x', 1193).attr('y', 686).attr('text-anchor', 'end').attr('font-size', 24);

rich(svg, [
	{t: 'm'}, {t: 'e', off: 4, fs: 10}, {t: '+', off: 0, fs: 7}, {t: 'e', off: 4, fs: 10}, {t: '-', off: 0, fs: 7},
	{t: ' [GeV/c'}, {t: '2', off: -7, fs: 11}, {t: ']'}
]).attr('x', 1189).attr('y', 375).attr('text-anchor', 'end').attr('font-size', 17);

rich(svg, [{t: 'd+Au  '}, {t: '\u221a', g: true}, {t: 's', ol: true}, {t: ' = 200 GeV'}])
	.attr('x', 128).attr('y', 40).attr('font-size', 20);
rich(svg, [
	{t: '|y'}, {t: 'e', off: -8, fs: 13}, {t: '| < 0.35    p'}, {t: 'e', off: -8, fs: 13},
	{t: 'T', off: 5, fs: 13, dx: -7}, {t: ' > 0.2 GeV/c'}
]).attr('x', 142).attr('y', 68).attr('font-size', 20);


/**
* LEGENDS
* =======
*/
var sample = function(x1, x2, y, st){
	svg.append('line').attr('x1', x1).attr('x2', x2).attr('y1', y).attr('y2', y)
		.attr('stroke', st.color).attr('stroke-width', st.width).attr('stroke-dasharray', st.dash || null);
};

svg.append('circle').attr('cx', 233).attr('cy', 93).attr('r', 7).attr('fill', purple);
svg.append('text').attr('x', 263).attr('y', 99).attr('font-size', 20).text('DATA');
var mainLegend = [
	{st: style.cc, y: 117, parts: [{t: 'c'}, {t: 'c', ol: true}, {t: '(PYTHIA)'}]},
	{st: style.bb, y: 141, parts: [{t: 'b'}, {t: 'b', ol: true}, {t: '(PYTHIA)'}]},
	{st: style.dy, y: 164, parts: [{t: 'DY'}]},
	{st: style.ups, y: 188, parts: [{t: '\u03d2', g: true, fs: 24}]}
];
mainLegend.forEach(function(row){
	sample(219, 247, row.y, row.st);
	rich(svg, row.parts).attr('x', 263).attr('y', row.y + 7).attr('font-size', 20);
});

var arrow = {t: ' \u2192 ', g: true};
var insetLegendLeft = [
	{st: style.pi0, y: 49, parts: [{t: '\u03c0', g: true}, {t: '0', off: -8, fs: 13}, arrow, {t: '\u03b3', g: true}, {t: 'ee'}]},
	{st: style.eta, y: 70, parts: [{t: '\u03b7', g: true}, arrow, {t: '\u03b3', g: true}, {t: 'ee'}]},
	{st: style.etap, y: 91, parts: [{t: '\u03b7', g: true}, {t: '\'', off: -7, fs: 13}, arrow, {t: '\u03b3', g: true}, {t: 'ee'}]},
	{st: style.rho, y: 113, parts: [{t: '\u03c1', g: true}, arrow, {t: 'ee'}]},
	{st: style.omega, y: 134, parts: [{t: '\u03c9', g: true}, arrow, {t: 'ee & '}, {t: '\u03c0', g: true}, {t: '0', off: -8, fs: 13}, {t: 'ee'}]},
	{st: style.phi, y: 155, parts: [{t: '\u03c6', g: true}, arrow, {t: 'ee & '}, {t: '\u03b7', g: true}, {t: 'ee'}]}
];
insetLegendLeft.forEach(function(row){
	sample(727, 757, row.y, row.st);
	rich(svg, row.parts).attr('x', 763).attr('y', row.y + 7).attr('font-size', 20);
});
var insetLegendRight = [
	{st: style.jpsi, y: 55, parts: [{t: 'J/'}, {t: '\u03c8', g: true}, arrow, {t: 'ee'}]},
	{st: style.psip, y: 86, parts: [{t: '\u03c8', g: true}, {t: '\'', off: -7, fs: 13}, arrow, {t: 'ee'}]},
	{st: style.hf, y: 117, parts: [{t: 'c'}, {t: 'c', ol: true}, {t: ' + b'}, {t: 'b', ol: true}, {t: ' + DY'}]},
	{st: {color: '#000', width: 7}, y: 147, parts: [{t: 'sum'}]}
];
insetLegendRight.forEach(function(row){
	sample(979, 1009, row.y, row.st);
	rich(svg, row.parts).attr('x', 1014).attr('y', row.y + 7).attr('font-size', 20);
});
</script>
</body>
</html>
